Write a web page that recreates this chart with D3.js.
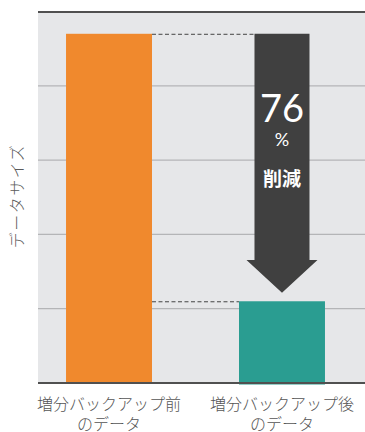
<!DOCTYPE html>
<html><head><meta charset="utf-8">
<script src="https://cdn.jsdelivr.net/npm/d3@7"></script>
<style>html,body{margin:0;padding:0;background:#fff;}svg{display:block;}</style>
</head><body>
<script>
const categories = ["増分バックアップ前", "増分バックアップ後"];
const categorySub = ["のデータ", "のデータ"];
const values = [4.7, 1.1];
const colors = ["#f0892d", "#2a9d91"];
const yTicks = [0, 1, 2, 3, 4, 5];
const reductionLabel = ["76", "%", "削減"];
const yLabel = "データサイズ";

const W = 365, H = 432;
const plot = {left: 38, right: 365, top: 11.5, bottom: 383};
const svg = d3.select("body").append("svg").attr("width", W).attr("height", H);

const y = d3.scaleLinear().domain([0, 5]).range([plot.bottom, plot.top]);
const x = d3.scaleBand().domain(categories).range([38, 353]).paddingInner(0.503).paddingOuter(0.162);

svg.append("rect").attr("x", plot.left).attr("y", plot.top).attr("width", plot.right - plot.left)
  .attr("height", plot.bottom - plot.top).attr("fill", "#e6e7e9");

// gridlines
svg.append("g").selectAll("line").data(yTicks.slice(1, -1)).join("line")
  .attr("x1", plot.left).attr("x2", plot.right)
  .attr("y1", d => y(d)).attr("y2", d => y(d))
  .attr("stroke", "#b4b5b7").attr("stroke-width", 1.2);

// top border
svg.append("line").attr("x1", plot.left).attr("x2", plot.right)
  .attr("y1", y(5) + 0.5).attr("y2", y(5) + 0.5).attr("stroke", "#505050").attr("stroke-width", 2);

// bars
svg.append("g").selectAll("rect").data(values).join("rect")
  .attr("x", (d, i) => x(categories[i]))
  .attr("width", x.bandwidth())
  .attr("y", d => y(d))
  .attr("height", (d, i) => y(0) - y(d) + (i === 1 ? 1.5 : -1))
  .attr("fill", (d, i) => colors[i]);

// dashed connectors
const c0 = x(categories[0]), c1 = x(categories[1]);
const cx1 = c1 + x.bandwidth() / 2;
const shaftHalf = 27.5, headHalf = 35.5;
svg.append("line").attr("x1", c0 + x.bandwidth()).attr("x2", cx1 - shaftHalf)
  .attr("y1", y(values[0]) + 0.5).attr("y2", y(values[0]) + 0.5)
  .attr("stroke", "#444").attr("stroke-width", 1).attr("stroke-dasharray", "4,2.5");
svg.append("line").attr("x1", c0 + x.bandwidth()).attr("x2", c1)
  .attr("y1", y(values[1]) + 0.5).attr("y2", y(values[1]) + 0.5)
  .attr("stroke", "#444").attr("stroke-width", 1).attr("stroke-dasharray", "4,2.5");

// arrow
const aTop = y(values[0]);
const headStart = 260, tip = y(values[1]) - 8.5;
svg.append("path").attr("fill", "#404040").attr("d",
  `M${cx1 - shaftHalf},${aTop}L${cx1 + shaftHalf},${aTop}L${cx1 + shaftHalf},${headStart}` +
  `L${cx1 + headHalf},${headStart}L${cx1},${tip}L${cx1 - headHalf},${headStart}L${cx1 - shaftHalf},${headStart}Z`);

svg.append("text").attr("x", cx1).attr("y", 122).attr("text-anchor", "middle")
  .attr("fill", "#fff").attr("font-family", "Lato, 'Open Sans', sans-serif").attr("font-size", 38)
  .text(reductionLabel[0]);
svg.append("text").attr("x", cx1).attr("y", 146).attr("text-anchor", "middle")
  .attr("fill", "#fff").attr("font-family", "Lato, 'Open Sans', sans-serif").attr("font-size", 18)
  .text(reductionLabel[1]);
svg.append("text").attr("x", cx1).attr("y", 186).attr("text-anchor", "middle")
  .attr("fill", "#fff").attr("font-family", "'Noto Sans CJK JP', sans-serif").attr("font-weight", "bold").attr("font-size", 19)
  .text(reductionLabel[2]);

// bottom axis line
svg.append("line").attr("x1", plot.left).attr("x2", plot.right)
  .attr("y1", y(0)).attr("y2", y(0)).attr("stroke", "#505050").attr("stroke-width", 2);

// x labels (two lines)
const labelStyle = sel => sel.attr("text-anchor", "middle").attr("fill", "#555")
  .attr("font-family", "'Noto Sans CJK JP', sans-serif").attr("font-weight", 300).attr("font-size", 16);
svg.append("g").selectAll("text").data(categories).join("text")
  .attr("x", d => x(d) + x.bandwidth() / 2).attr("y", 410).call(labelStyle).text(d => d);
svg.append("g").selectAll("text").data(categorySub).join("text")
  .attr("x", (d, i) => x(categories[i]) + x.bandwidth() / 2).attr("y", 430).call(labelStyle).text(d => d);

// y label
svg.append("text").attr("transform", `translate(23,196) rotate(-90)`)
  .attr("text-anchor", "middle").attr("fill", "#5a5a5a")
  .attr("font-family", "'Noto Sans CJK JP', sans-serif").attr("font-weight", 300).attr("font-size", 16)
  .attr("letter-spacing", 1.5).text(yLabel);
</script>
</body></html>
